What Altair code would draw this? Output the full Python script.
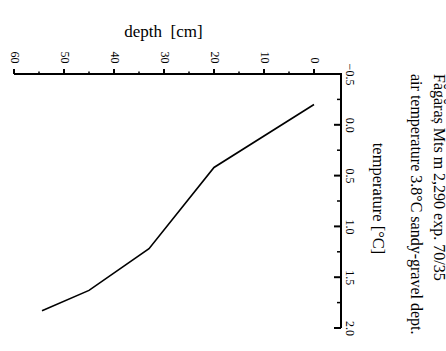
import altair as alt
import pandas as pd

# ---- data ----
depth_cm = [0, 20, 33, 45, 54.4]
temperature_c = [-0.2, 0.42, 1.22, 1.63, 1.83]
depth_major = [0, 10, 20, 30, 40, 50, 60]
depth_minor = [5, 15, 25, 35, 45, 55]
temp_major = [-0.5, 0.0, 0.5, 1.0, 1.5, 2.0]
temp_minor = [-0.25, 0.25, 0.75, 1.25, 1.75]
title_lines = ["Făgăraș Mts m 2,290 exp. 70/35",
               "air temperature 3.8°C sandy-gravel dept."]
depth_title = "depth\u2002[cm]"
temp_title = "temperature [°C]"

# ---- axis extents (scale domains) ----
DEPTH_LO, DEPTH_HI = -5.4, 60
TEMP_LO, TEMP_HI = -0.5, 2.0
# tick lengths in data units (5 px per cm, ~101.6 px per °C)
DEPTH_TICK_MAJOR = 0.05
DEPTH_TICK_MINOR = 0.025
TEMP_TICK_MAJOR = 1.4
TEMP_TICK_MINOR = 0.8

df = pd.DataFrame({"depth": depth_cm, "temp": temperature_c})

# axis frame and tick segments, built from the tick lists above
major_rows = []
for i, (xv, yv) in enumerate([(DEPTH_HI, TEMP_LO), (DEPTH_LO, TEMP_LO), (DEPTH_LO, TEMP_HI)]):
    major_rows.append({"x": xv, "y": yv, "seg": "frame", "o": i})
for d in depth_major:
    major_rows.append({"x": d, "y": TEMP_LO, "seg": f"d{d}", "o": 0})
    major_rows.append({"x": d, "y": TEMP_LO - DEPTH_TICK_MAJOR, "seg": f"d{d}", "o": 1})
for t in temp_major:
    major_rows.append({"x": DEPTH_LO, "y": t, "seg": f"t{t}", "o": 0})
    major_rows.append({"x": DEPTH_LO + TEMP_TICK_MAJOR, "y": t, "seg": f"t{t}", "o": 1})
minor_rows = []
for d in depth_minor:
    minor_rows.append({"x": d, "y": TEMP_LO, "seg": f"d{d}", "o": 0})
    minor_rows.append({"x": d, "y": TEMP_LO - DEPTH_TICK_MINOR, "seg": f"d{d}", "o": 1})
for t in temp_minor:
    minor_rows.append({"x": DEPTH_LO, "y": t, "seg": f"t{t}", "o": 0})
    minor_rows.append({"x": DEPTH_LO + TEMP_TICK_MINOR, "y": t, "seg": f"t{t}", "o": 1})
df_major = pd.DataFrame(major_rows)
df_minor = pd.DataFrame(minor_rows)

FONT = "Liberation Serif"
W, H = 327, 254

XS = alt.Scale(domain=[DEPTH_LO, DEPTH_HI], reverse=True, nice=False, zero=False)
YS = alt.Scale(domain=[TEMP_LO, TEMP_HI], reverse=True, nice=False, zero=False)

# identical axis definitions shared by every layer (labels and titles only)
XA = alt.Axis(
    orient="top", values=depth_major, format="d",
    labelAngle=90, labelAlign="right", labelBaseline="middle",
    labelFont=FONT, labelFontSize=12, labelColor="black", labelPadding=11,
    labelOverlap=False, labelFlush=False,
    ticks=False, domain=False, grid=False,
    title=depth_title, titleFont=FONT, titleFontSize=17, titleFontWeight="normal",
    titleColor="black", titleAngle=0, titleX=149, titleY=-43,
    titleAlign="center", titleBaseline="middle")
YA = alt.Axis(
    orient="right", values=temp_major, format=".1f",
    labelAngle=90, labelAlign="center", labelBaseline="alphabetic",
    labelFont=FONT, labelFontSize=12, labelColor="black", labelPadding=4,
    labelOverlap=False, labelFlush=False,
    ticks=False, domain=False, grid=False,
    title=temp_title, titleFont=FONT, titleFontSize=16.5, titleFontWeight="normal",
    titleColor="black", titleAngle=90, titleX=36, titleY=124,
    titleAlign="center", titleBaseline="middle")

main = alt.Chart(df).mark_line(color="black", strokeWidth=1.6).encode(
    x=alt.X("depth:Q", scale=XS, axis=XA),
    y=alt.Y("temp:Q", scale=YS, axis=YA),
    order="depth:Q",
)

frame_major = alt.Chart(df_major).mark_line(
    color="black", strokeWidth=2, strokeJoin="miter").encode(
    x=alt.X("x:Q", scale=XS, axis=XA),
    y=alt.Y("y:Q", scale=YS, axis=YA),
    detail="seg:N",
    order="o:Q",
)

frame_minor = alt.Chart(df_minor).mark_line(color="black", strokeWidth=1.5).encode(
    x=alt.X("x:Q", scale=XS, axis=XA),
    y=alt.Y("y:Q", scale=YS, axis=YA),
    detail="seg:N",
    order="o:Q",
)

chart = alt.layer(main, frame_major, frame_minor).properties(
    width=W, height=H,
    padding={"left": 14, "top": 74, "right": 105, "bottom": 23},
    autosize=alt.AutoSizeParams(type="none"),
    background="white",
    title=alt.TitleParams(
        text=title_lines, orient="right", anchor="start", frame="group",
        font=FONT, fontSize=16, fontWeight="normal", color="black",
        offset=23, lineHeight=23),
).configure_view(strokeWidth=0)

chart.save("out.html", embed_options={"renderer": "svg", "actions": False})
